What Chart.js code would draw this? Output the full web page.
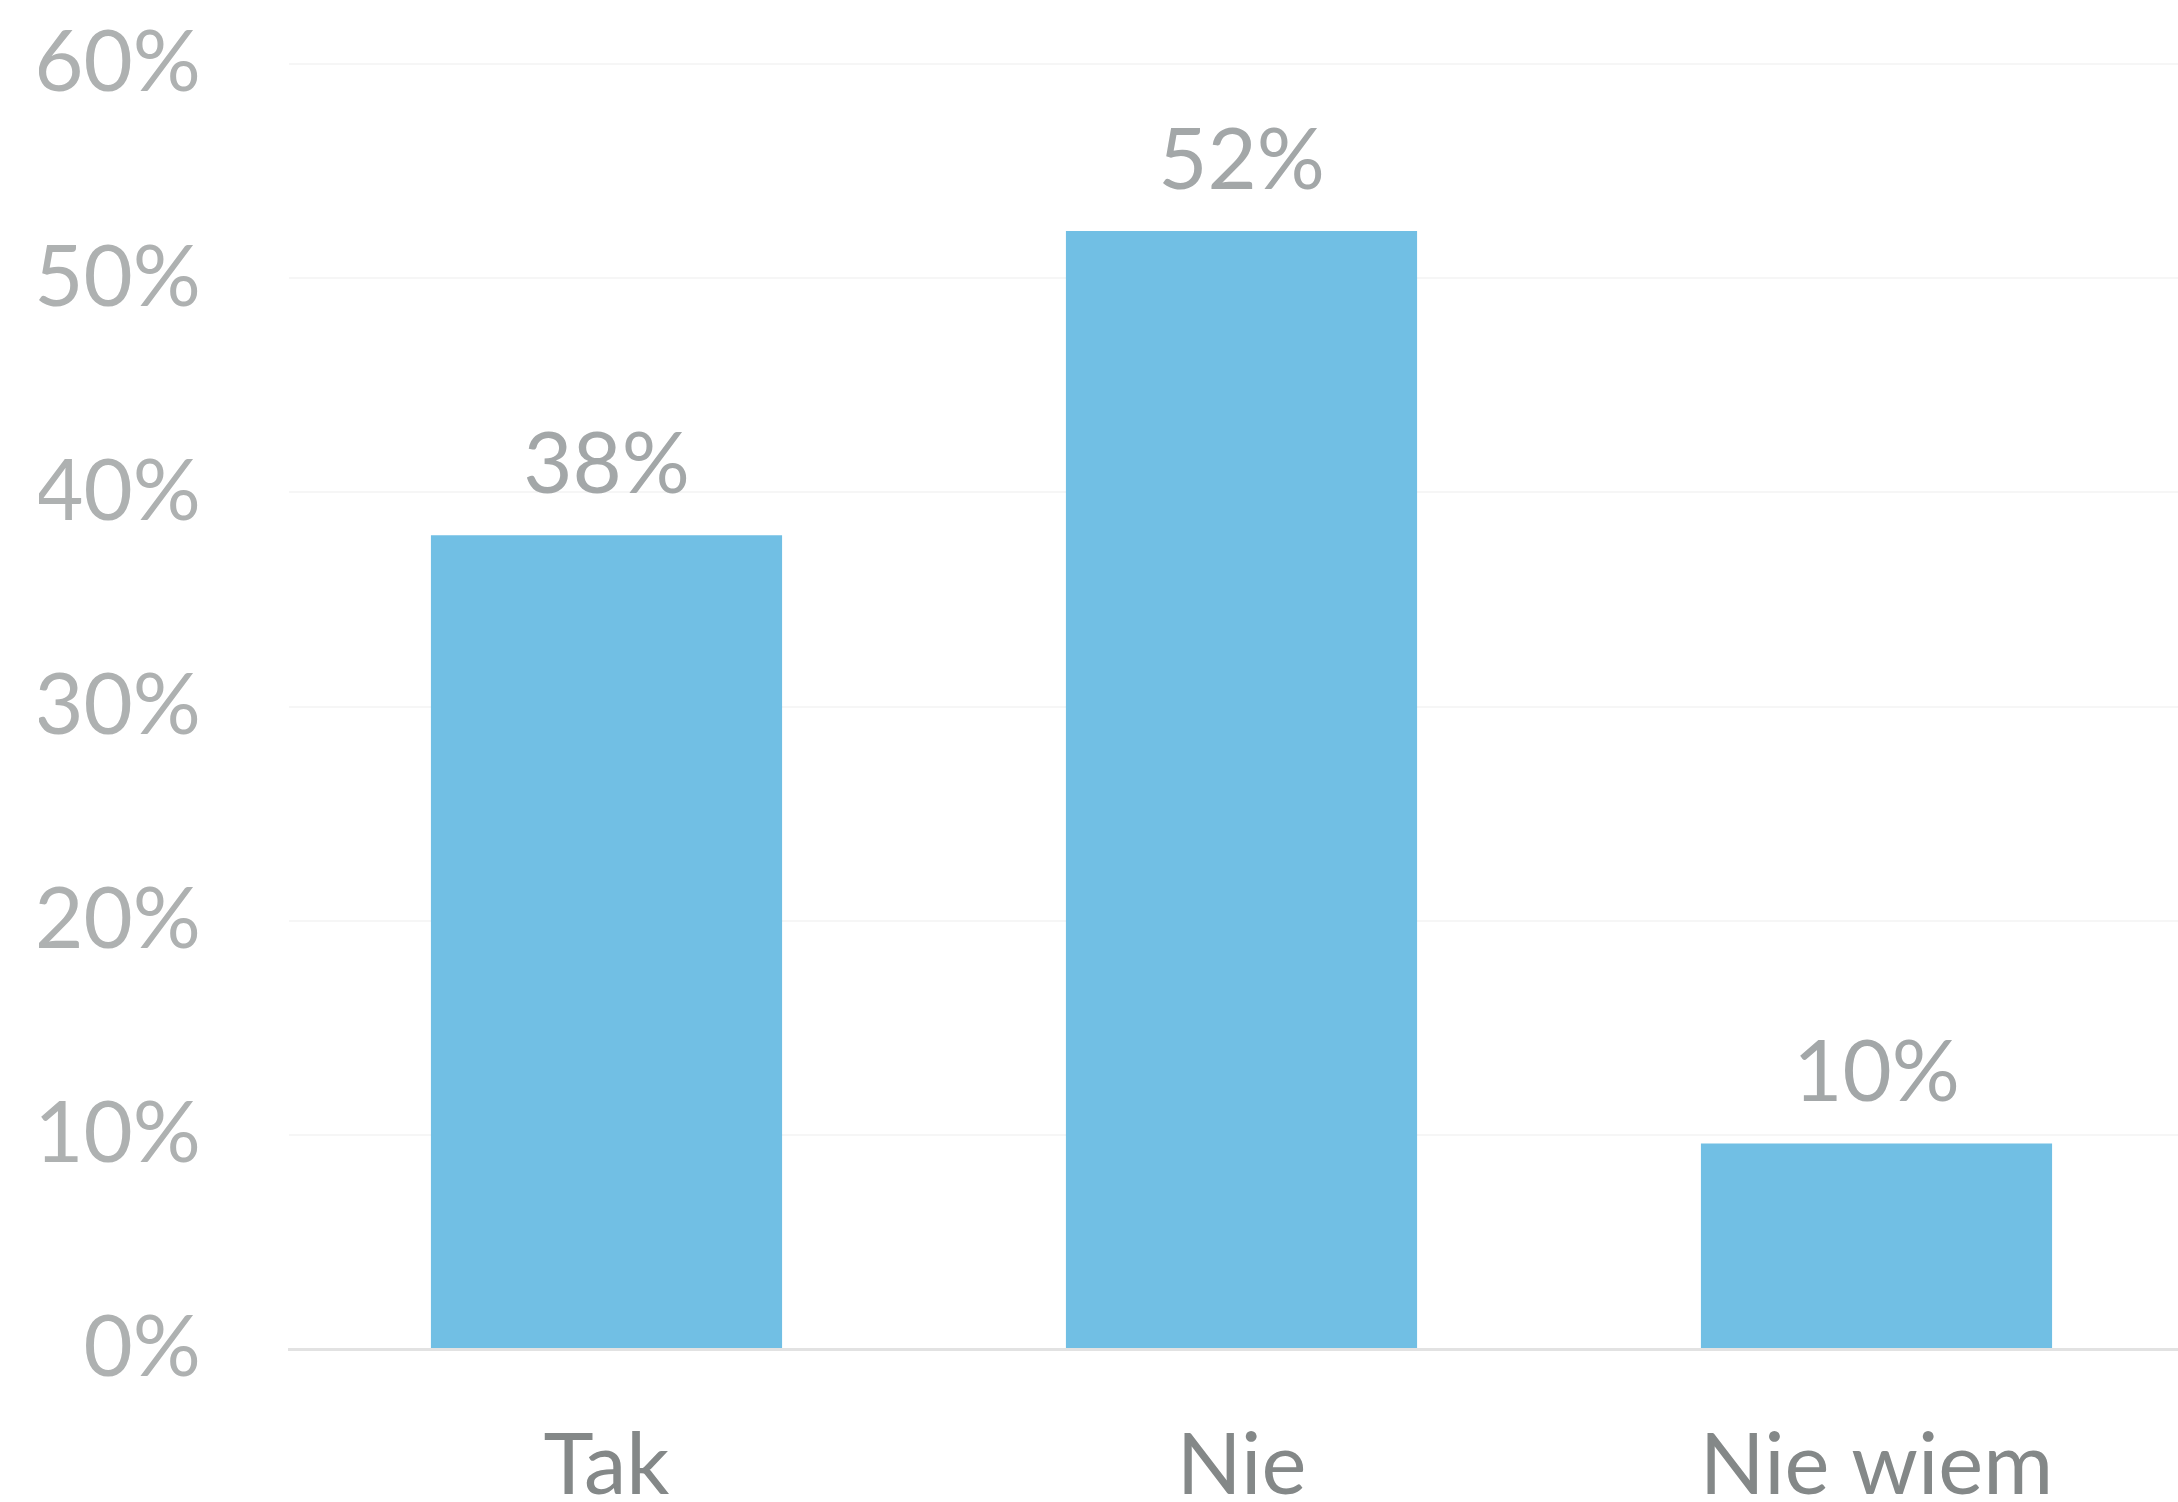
<!DOCTYPE html>
<html>
<head>
<meta charset="utf-8">
<script src="https://cdn.jsdelivr.net/npm/chart.js@4.4.0/dist/chart.umd.min.js"></script>
<style>
  html, body { margin: 0; padding: 0; background: #fff; overflow: hidden; }
  #wrap { width: 2194px; height: 1502px; }
</style>
</head>
<body>
<div id="wrap"><canvas id="answerChart" width="2194" height="1502"></canvas></div>
<script>
// answers and their share in percent
const categories = ["Tak", "Nie", "Nie wiem"];
const shares = [38, 52.2, 9.6];
const shareLabels = ["38%", "52%", "10%"];
const yTicks = [0, 10, 20, 30, 40, 50, 60];

const fontName = "Lato, 'Open Sans', sans-serif";

// draws the percent above each bar
const barValuePlugin = {
  id: "barValues",
  afterDatasetsDraw(chart) {
    const ctx = chart.ctx;
    const meta = chart.getDatasetMeta(0);
    ctx.save();
    ctx.font = "400 85px " + fontName;
    ctx.fillStyle = "#a3a7a8";
    ctx.textAlign = "center";
    ctx.textBaseline = "alphabetic";
    meta.data.forEach((bar, i) => {
      ctx.fillText(shareLabels[i], bar.x, bar.y - 42);
    });
    ctx.restore();
  },
};

const data = {
  labels: categories,
  datasets: [
    {
      data: shares,
      backgroundColor: "#71bfe4",
      borderWidth: 0,
      barPercentage: 0.553,
      categoryPercentage: 1,
    },
  ],
};

const config = {
  type: "bar",
  data: data,
  options: {
    responsive: false,
    animation: false,
    layout: {
      padding: { left: 39, right: 0, top: 0, bottom: 0 },
    },
    plugins: {
      legend: { display: false },
      tooltip: { enabled: false },
    },
    scales: {
      x: {
        grid: { display: false, drawTicks: false },
        border: { display: true, color: "#e2e2e2", width: 3 },
        ticks: {
          color: "#848888",
          padding: 75,
          font: { family: fontName, size: 85, lineHeight: 1.0 },
        },
        // keep the axis band fixed so the zero line sits where it should
        afterFit: (scale) => {
          scale.height = 153;
          scale.paddingLeft = 0;
          scale.paddingRight = 0;
        },
      },
      y: {
        min: 0,
        max: 60,
        afterBuildTicks: (scale) => {
          scale.ticks = yTicks.map((v) => ({ value: v }));
        },
        grid: { color: "#f6f6f6", lineWidth: 2, drawTicks: false },
        border: { display: false },
        ticks: {
          color: "#aeb1b1",
          padding: 88,
          font: { family: fontName, size: 85, lineHeight: 1.2 },
          callback: (v) => v + "%",
        },
        afterFit: (scale) => {
          scale.width = 250;
          scale.paddingTop = 64;
          scale.paddingBottom = 0;
        },
      },
    },
  },
  plugins: [barValuePlugin],
};

const myChart = new Chart(document.querySelector("#answerChart"), config);
</script>
</body>
</html>
